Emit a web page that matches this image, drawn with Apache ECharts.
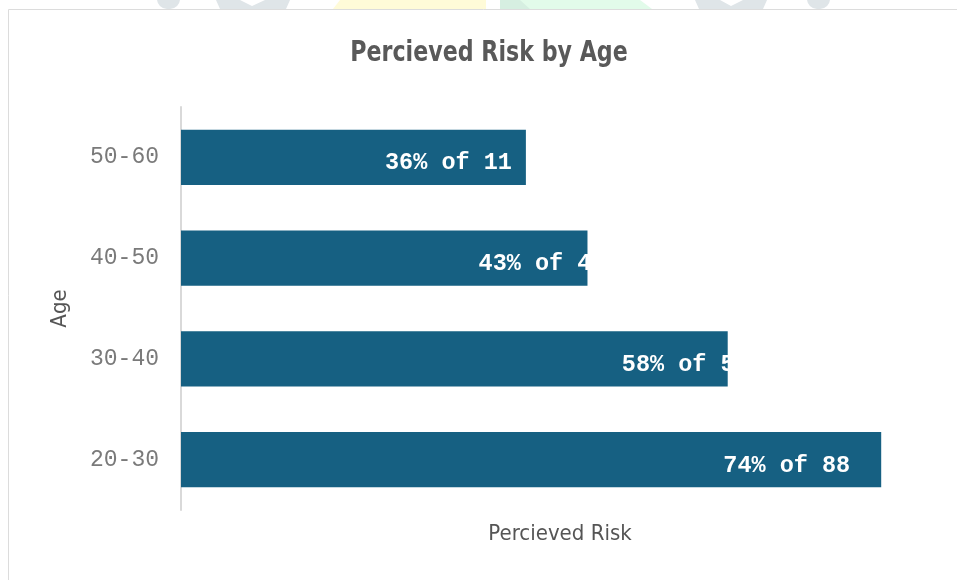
<!DOCTYPE html>
<html>
<head>
<meta charset="utf-8">
<script src="https://cdn.jsdelivr.net/npm/echarts@6/dist/echarts.min.js"></script>
<style>
  html, body { margin: 0; padding: 0; background: #ffffff; }
  #chart { width: 957px; height: 580px; }
</style>
</head>
<body>
<div id="chart"></div>
<script>
// Age groups, bottom to top
const ageGroups = ['20-30', '30-40', '40-50', '50-60'];
// Share of each group that perceives risk (%)
const riskPercent = [73.9, 57.7, 42.9, 36.4];
// Respondents in each group
const groupCounts = [88, 52, 49, 11];

const chartTitle = 'Percieved Risk by Age';
const barColor = '#166082';
const monoFont = '"Liberation Mono", "Courier New", monospace';
const narrowFont = '"DejaVu Sans Condensed", "DejaVu Sans", sans-serif';

// label nudges so each caption sits where it does in the layout
const labelShift = [-26, 26, 23, -9];

const chart = echarts.init(document.getElementById('chart'), null, { renderer: 'canvas' });

chart.setOption({
  animation: false,
  backgroundColor: '#ffffff',
  graphic: [
    // faint backdrop shapes peeking above the card
    { type: 'rect', z: -20, shape: { x: 157, y: -20, width: 23, height: 29, r: 10 }, style: { fill: '#dfe5e8' } },
    { type: 'polygon', z: -20, shape: { points: [[216, 0], [240, 0], [252, 6], [265, 0], [290, 0], [286, 9], [220, 9]] }, style: { fill: '#dfe5e8' } },
    { type: 'polygon', z: -20, shape: { points: [[340, 0], [486, 0], [486, 9], [333, 9]] }, style: { fill: '#fffbd8' } },
    { type: 'polygon', z: -20, shape: { points: [[500, 0], [640, 0], [652, 9], [500, 9]] }, style: { fill: '#e2fbea' } },
    { type: 'polygon', z: -19, shape: { points: [[500, 0], [520, 0], [530, 9], [500, 9]] }, style: { fill: '#d6efe1' } },
    { type: 'polygon', z: -20, shape: { points: [[695, 0], [720, 0], [731, 6], [743, 0], [767, 0], [763, 9], [699, 9]] }, style: { fill: '#dfe5e8' } },
    { type: 'rect', z: -20, shape: { x: 807, y: -20, width: 23, height: 29, r: 10 }, style: { fill: '#dfe5e8' } },
    // card
    { type: 'rect', z: -10, shape: { x: 8.5, y: 9.5, width: 960, height: 580 }, style: { fill: '#ffffff', stroke: '#dcdcdc', lineWidth: 1 } },
    // chart title, narrowed horizontally
    {
      type: 'text', z: 10, x: 489, y: 54, scaleX: 0.88,
      style: {
        text: chartTitle,
        font: 'bold 28px ' + narrowFont,
        fill: '#595959',
        textAlign: 'center',
        textVerticalAlign: 'middle'
      }
    }
  ],
  grid: { left: 181, right: 18, top: 107, bottom: 70, containLabel: false },
  xAxis: {
    type: 'value',
    min: 0,
    max: 80,
    name: 'Percieved Risk',
    nameLocation: 'middle',
    nameGap: 13,
    nameTextStyle: { fontFamily: narrowFont, fontSize: 22, color: '#555555', verticalAlign: 'top' },
    axisLine: { show: false },
    axisTick: { show: false },
    axisLabel: { show: false },
    splitLine: { show: false }
  },
  yAxis: {
    type: 'category',
    data: ageGroups,
    name: 'Age',
    nameLocation: 'middle',
    nameGap: 110,
    nameRotate: 90,
    nameTextStyle: { fontFamily: narrowFont, fontSize: 22, color: '#555555' },
    axisLine: { show: true, lineStyle: { color: '#d9d9d9', width: 2 } },
    axisTick: { show: false },
    axisLabel: { fontFamily: monoFont, fontSize: 23, color: '#7a7a7a', margin: 22 }
  },
  series: [{
    type: 'bar',
    barWidth: '55%',
    itemStyle: { color: barColor },
    data: riskPercent.map((v, i) => ({
      value: v,
      label: {
        show: true,
        position: 'insideRight',
        offset: [labelShift[i], 6],
        formatter: Math.round(v) + '% of ' + groupCounts[i],
        fontFamily: monoFont,
        fontWeight: 'bold',
        fontSize: 23.5,
        color: '#ffffff'
      }
    }))
  }]
});
</script>
</body>
</html>
